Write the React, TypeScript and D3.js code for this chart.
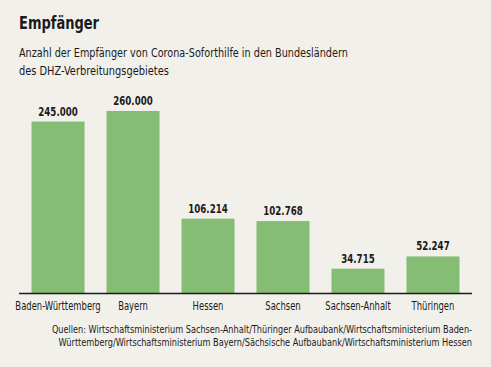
import { useEffect, useRef } from "react";
import * as d3 from "d3";

const categories = ["Baden-Württemberg", "Bayern", "Hessen", "Sachsen", "Sachsen-Anhalt", "Thüringen"];
const values = [245000, 260000, 106214, 102768, 34715, 52247];
const valueLabels = ["245.000", "260.000", "106.214", "102.768", "34.715", "52.247"];

const title = "Empfänger";
const subtitle = ["Anzahl der Empfänger von Corona-Soforthilfe in den Bundesländern", "des DHZ-Verbreitungsgebietes"];
const source = [
  "Quellen: Wirtschaftsministerium Sachsen-Anhalt/Thüringer Aufbaubank/Wirtschaftsministerium Baden-",
  "Württemberg/Wirtschaftsministerium Bayern/Sächsische Aufbaubank/Wirtschaftsministerium Hessen",
];

const FONT = "'Liberation Sans Narrow', 'DejaVu Sans Condensed', 'Roboto Condensed', 'Liberation Sans', sans-serif";

type G = d3.Selection<SVGGElement, unknown, null, undefined>;

// narrow text: the reference uses a condensed newspaper face, so squeeze horizontally
function narrowText(
  parent: G,
  x: number,
  y: number,
  s: string,
  size: number,
  opts: { anchor?: string; bold?: boolean; factor?: number; width?: number } = {}
) {
  const g = parent.append("g");
  const t = g
    .append("text")
    .attr("font-size", size)
    .attr("text-anchor", opts.anchor ?? "start")
    .attr("font-weight", opts.bold ? "bold" : "normal")
    .text(s);
  let f = opts.factor ?? 1;
  if (opts.width) f = opts.width / (t.node()?.getComputedTextLength() || 1);
  g.attr("transform", `translate(${x},${y}) scale(${f},1)`);
  return g;
}

export default function App() {
  const ref = useRef<SVGSVGElement | null>(null);
  const width = 491;
  const height = 367;

  useEffect(() => {
    const svg = d3.select(ref.current);
    svg.selectAll("*").remove();

    svg.append("rect").attr("width", width).attr("height", height).attr("fill", "#f2f0eb");

    const txt = svg.append("g").attr("font-family", FONT).attr("font-stretch", "condensed").attr("fill", "#1a1a1a") as G;

    narrowText(txt, 19, 29, title, 17.5, { bold: true, width: 80 });

    const subW = [329, 150];
    subtitle.forEach((s, i) => {
      narrowText(txt, 19, 57 + i * 18, s, 12.5, { width: subW[i] });
    });

    const base = 293;
    const x = d3.scaleBand<string>().domain(categories).range([19, 472]).paddingInner(0.293).paddingOuter(0.167);
    const y = d3.scaleLinear().domain([0, 260000]).range([base, 111]);

    const g = svg.append("g");
    g.selectAll("rect.bar")
      .data(values)
      .join("rect")
      .attr("class", "bar")
      .attr("x", (_, i) => x(categories[i]) ?? 0)
      .attr("y", (d) => y(d))
      .attr("width", x.bandwidth())
      .attr("height", (d) => base - y(d))
      .attr("fill", "#86bd74");

    g.append("line")
      .attr("x1", 19)
      .attr("x2", 472)
      .attr("y1", base + 0.5)
      .attr("y2", base + 0.5)
      .attr("stroke", "#1a1a1a")
      .attr("stroke-width", 1.5);

    values.forEach((v, i) => {
      const cx = (x(categories[i]) ?? 0) + x.bandwidth() / 2;
      narrowText(txt, cx, y(v) - 6, valueLabels[i], 12.5, { anchor: "middle", bold: true, factor: 0.77 });
      narrowText(txt, cx, 310, categories[i], 12, { anchor: "middle", factor: 0.78 });
    });

    const srcW = [421, 414];
    source.forEach((s, i) => {
      narrowText(txt, 472, 333 + i * 13, s, 10.5, { anchor: "end", width: srcW[i] });
    });
  }, []);

  return (
    <svg
      ref={ref}
      width={width}
      height={height}
      style={{ position: "absolute", left: 0, top: 0, display: "block" }}
    />
  );
}
